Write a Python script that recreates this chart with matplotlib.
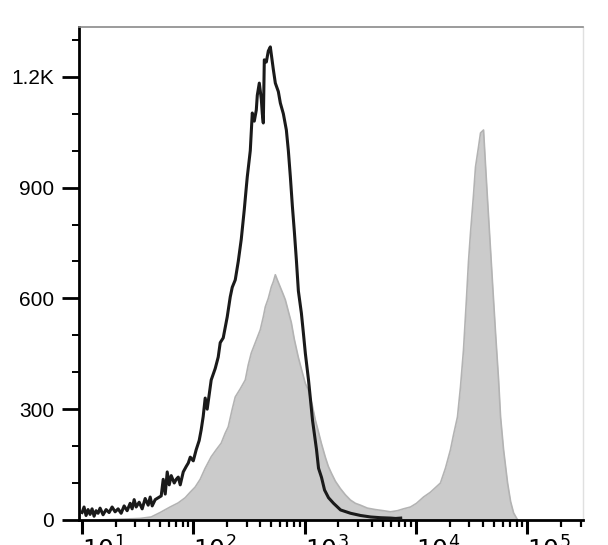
import numpy as np
import matplotlib
matplotlib.use('Agg')
from matplotlib import pyplot as plt
from matplotlib.ticker import FixedLocator, LogLocator, NullFormatter

# black histogram (stained sample): position in decades, count
black_log = [1.000, 1.018, 1.036, 1.054, 1.072, 1.090, 1.108, 1.126, 1.144, 1.162,
             1.189, 1.216, 1.243, 1.270, 1.297, 1.324, 1.351, 1.378, 1.405, 1.432,
             1.450, 1.468, 1.486, 1.513, 1.540, 1.567, 1.594, 1.612, 1.630, 1.657,
             1.684, 1.711, 1.729, 1.747, 1.765, 1.783, 1.801, 1.828, 1.846, 1.864,
             1.882, 1.909, 1.936, 1.954, 1.972, 1.999, 2.025, 2.052, 2.070, 2.088,
             2.106, 2.124, 2.160, 2.196, 2.223, 2.241, 2.268, 2.304, 2.331, 2.349,
             2.376, 2.403, 2.430, 2.457, 2.475, 2.484, 2.511, 2.529, 2.547, 2.565,
             2.574, 2.592, 2.610, 2.619, 2.628, 2.637, 2.655, 2.673, 2.691, 2.718,
             2.736, 2.763, 2.781, 2.808, 2.835, 2.853, 2.871, 2.889, 2.907, 2.925,
             2.943, 2.970, 2.988, 3.006, 3.034, 3.052, 3.070, 3.088, 3.106, 3.124,
             3.151, 3.178, 3.214, 3.259, 3.322, 3.412, 3.502, 3.592, 3.682, 3.772,
             3.817, 3.862]
black_cnt = [20, 35, 12, 28, 15, 30, 10, 25, 18, 32,
             14, 28, 20, 35, 22, 30, 18, 38, 25, 45,
             30, 55, 35, 48, 30, 58, 40, 62, 38, 55,
             60, 65, 110, 70, 130, 95, 120, 100, 110, 116,
             95, 130, 145, 154, 170, 160, 190, 215, 244, 280,
             330, 300, 379, 410, 441, 480, 493, 550, 604, 630,
             650, 700, 760, 840, 900, 929, 1000, 1102, 1080, 1110,
             1150, 1183, 1140, 1100, 1075, 1246, 1240, 1270, 1281, 1220,
             1183, 1160, 1129, 1100, 1056, 1000, 929, 850, 780, 704,
             620, 560, 506, 450, 379, 325, 270, 230, 190, 140,
             115, 81, 60, 45, 27, 18, 12, 8, 6, 5,
             4, 5]

# gray filled histogram (control / mixed sample)
gray_log = [1.162, 1.342, 1.522, 1.621, 1.701, 1.791, 1.863, 1.926, 1.971, 2.016,
            2.061, 2.106, 2.160, 2.205, 2.250, 2.286, 2.313, 2.349, 2.376, 2.421,
            2.466, 2.493, 2.520, 2.556, 2.601, 2.628, 2.646, 2.673, 2.700, 2.718,
            2.736, 2.754, 2.781, 2.808, 2.826, 2.853, 2.880, 2.906, 2.942, 2.978,
            3.005, 3.032, 3.068, 3.095, 3.122, 3.149, 3.185, 3.212, 3.239, 3.275,
            3.320, 3.365, 3.410, 3.455, 3.500, 3.563, 3.635, 3.707, 3.770, 3.833,
            3.887, 3.950, 4.004, 4.067, 4.129, 4.183, 4.219, 4.264, 4.309, 4.336,
            4.372, 4.399, 4.426, 4.453, 4.471, 4.489, 4.516, 4.534, 4.561, 4.579,
            4.606, 4.624, 4.642, 4.669, 4.687, 4.714, 4.741, 4.759, 4.786, 4.822,
            4.849, 4.876, 4.912]
gray_cnt = [0, 2, 4, 8, 20, 35, 46, 60, 75, 89,
            110, 140, 171, 190, 208, 235, 252, 300, 333, 355,
            379, 420, 452, 480, 515, 550, 577, 600, 631, 645,
            664, 650, 630, 610, 596, 565, 534, 490, 441, 400,
            370, 352, 310, 271, 240, 208, 170, 145, 127, 105,
            85, 68, 54, 45, 40, 32, 28, 25, 22, 25,
            30, 35, 45, 62, 75, 90, 100, 140, 190, 230,
            279, 360, 460, 600, 700, 777, 880, 956, 1010, 1048,
            1056, 960, 867, 731, 640, 506, 380, 279, 190, 100,
            50, 19, 0]

y_ticks = [0, 300, 600, 900, 1200]
y_tick_labels = ['0', '300', '600', '900', '1.2K']
x_decades = [1, 2, 3, 4, 5]

fig = plt.figure(figsize=(6.08, 5.45), dpi=100)
ax = fig.add_axes([0.130, 0.046, 0.829, 0.9045])

gx = 10 ** np.array(gray_log)
ax.fill_between(gx, gray_cnt, 0, color='#cbcbcb', lw=0, zorder=1)
ax.plot(gx, gray_cnt, color='#b3b3b3', lw=1.2, zorder=2)

bx = 10 ** np.array(black_log)
ax.plot(bx, black_cnt, color='#1a1a1a', lw=2.2, zorder=3)

ax.set_xscale('log')
ax.set_xlim(10 ** 0.973, 10 ** 5.5)
ax.set_ylim(0, 1335)

ax.xaxis.set_major_locator(FixedLocator([10.0 ** d for d in x_decades]))
ax.set_xticklabels(['$10^{%d}$' % d for d in x_decades], fontsize=18, ha='left')
ax.xaxis.set_minor_locator(LogLocator(base=10, subs=np.arange(2, 10), numticks=20))
ax.xaxis.set_minor_formatter(NullFormatter())

ax.set_yticks(y_ticks)
ax.set_yticklabels(y_tick_labels, fontsize=15, family='Liberation Sans')
ax.yaxis.set_minor_locator(FixedLocator([100, 200, 400, 500, 700, 800, 1000, 1100, 1300]))

ax.tick_params(axis='x', which='major', direction='out', length=10, width=2.2, pad=2)
ax.tick_params(axis='x', which='minor', direction='out', length=5, width=1.6)
ax.tick_params(axis='y', which='major', direction='out', length=12, width=2.0, pad=6)
ax.tick_params(axis='y', which='minor', direction='out', length=5, width=1.4)

ax.spines['left'].set_linewidth(2)
ax.spines['bottom'].set_linewidth(2)
ax.spines['top'].set_color('#8a8a8a')
ax.spines['top'].set_linewidth(1.2)
ax.spines['right'].set_color('#e0e0e0')
ax.spines['right'].set_linewidth(1)

fig.savefig('out.png', dpi=100)
